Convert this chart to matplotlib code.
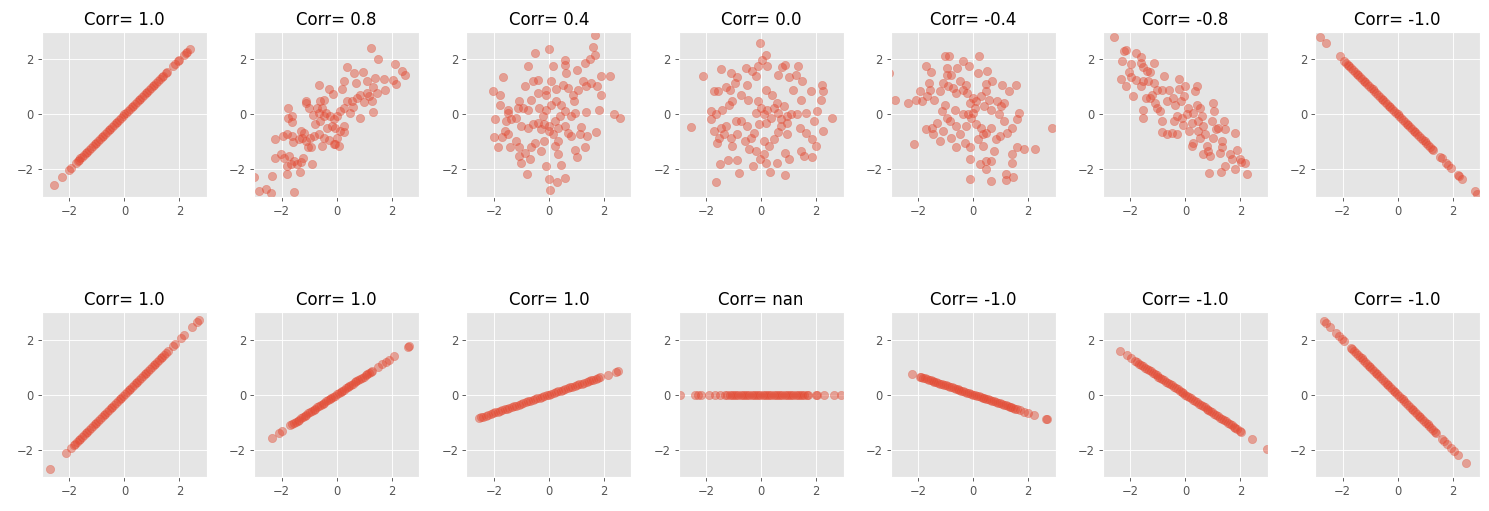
import matplotlib.pyplot as plt

# titulos de cada panel (fila de arriba, fila de abajo)
titles_top = ['Corr= 1.0', 'Corr= 0.8', 'Corr= 0.4', 'Corr= 0.0', 'Corr= -0.4', 'Corr= -0.8', 'Corr= -1.0']
titles_bottom = ['Corr= 1.0', 'Corr= 1.0', 'Corr= 1.0', 'Corr= nan', 'Corr= -1.0', 'Corr= -1.0', 'Corr= -1.0']

ticks = [-2, 0, 2]

# fila de arriba
x_t1 = [-2.57, -2.27, -2.02, -1.96, -1.75, -1.7, -1.66, -1.6, -1.54, -1.47, -1.41, -1.35, -1.28, -1.22, -1.15, -1.09,
        -1.02, -0.96, -0.9, -0.83, -0.77, -0.7, -0.64, -0.58, -0.51, -0.45, -0.38, -0.32, -0.26, -0.19, -0.13, -0.06,
        0.0, 0.06, 0.13, 0.19, 0.26, 0.32, 0.38, 0.45, 0.51, 0.58, 0.64, 0.7, 0.77, 0.83, 0.9, 0.96, 1.03, 1.09, 1.16,
        1.22, 1.29, 1.35, 1.41, 1.5, 1.53, 1.75, 1.84, 1.93, 1.97, 2.16, 2.25, 2.28, 2.37]
y_t1 = [-2.57, -2.27, -2.02, -1.96, -1.75, -1.7, -1.66, -1.6, -1.54, -1.47, -1.41, -1.35, -1.28, -1.22, -1.15, -1.09,
        -1.02, -0.96, -0.9, -0.83, -0.77, -0.7, -0.64, -0.58, -0.51, -0.45, -0.38, -0.32, -0.26, -0.19, -0.13, -0.06,
        0.0, 0.06, 0.13, 0.19, 0.26, 0.32, 0.38, 0.45, 0.51, 0.58, 0.64, 0.7, 0.77, 0.83, 0.9, 0.96, 1.03, 1.09, 1.16,
        1.22, 1.29, 1.35, 1.41, 1.5, 1.53, 1.75, 1.84, 1.93, 1.97, 2.16, 2.25, 2.28, 2.37]

x_t2 = [1.25, 1.52, 2.12, 2.37, 2.49, 2.14, 2.04, 1.77, 1.72, 0.39, 0.64, 0.95, -0.63, -0.29, -0.13, 0.2, 0.28, 0.69,
        1.1, 1.39, 1.31, 1.46, 1.17, 1.29, 1.31, 1.0, 0.86, 1.1, 0.86, 0.73, 0.55, 0.37, 0.28, 0.47, 0.61, 0.13, 0.01,
        -0.11, -0.23, -0.37, -0.53, -0.65, -0.47, -0.59, -0.77, -0.86, -1.01, -1.1, -1.13, -0.59, -0.47, -0.71, -0.35,
        -0.17, -0.05, 0.13, 0.25, 0.28, 0.01, -0.11, 0.07, -0.29, -0.53, -0.47, -0.65, -0.83, -0.98, -0.95, -1.13,
        -1.25, -1.31, -1.19, -1.37, -1.61, -1.58, -1.8, -1.94, -2.25, -1.76, -1.63, -1.61, -1.77, -2.01, -1.92, -1.73,
        -1.67, -1.8, -1.55, -1.31, -1.22, -1.46, -1.34, -0.9, -1.82, -2.25, -2.34, -2.4, -2.58, -2.84, -3.0, -1.55,
        -1.04, -0.05]
y_t2 = [2.43, 2.0, 1.84, 1.58, 1.43, 1.12, 1.27, 0.9, 1.29, 1.71, 1.51, 1.53, 1.06, 0.94, 0.76, 0.94, 1.23, 1.14, 1.2,
        1.33, 0.99, 0.78, 0.66, 0.48, 0.1, 0.46, -0.14, 0.78, 0.72, 0.6, 0.48, 0.48, 0.24, 0.06, 0.27, 0.12, -0.06,
        -0.18, -0.06, 0.06, 0.24, 0.06, -0.06, -0.24, -0.36, -0.02, 0.24, 0.42, 0.48, 0.48, 0.54, 0.24, -0.48, -0.42,
        -0.48, -0.6, -0.42, -0.63, -0.84, -1.06, -1.14, -0.94, -1.14, -0.84, -0.72, -0.78, -0.84, -1.2, -0.96, -0.84,
        -0.6, -0.66, -0.9, -0.78, -0.99, -0.72, -0.78, -0.88, -0.12, -0.27, -0.06, 0.22, -1.45, -1.57, -1.51, -1.81,
        -1.87, -1.69, -1.72, -1.6, -1.81, -2.08, -1.81, -2.17, -1.6, -2.25, -2.87, -2.71, -2.77, -2.27, -2.81, -1.2,
        -1.08]

x_t3 = [1.68, 1.61, 1.67, 1.49, 1.3, 1.01, 0.57, 0.57, 0.62, 0.15, -0.01, -0.51, -0.76, -1.66, -2.04, -1.76, -1.79,
        -1.94, -1.49, -1.49, -1.39, -1.55, -1.61, -1.98, -1.71, -1.85, -1.49, -1.41, -1.19, -1.07, -1.1, -1.03, -0.85,
        -0.7, -0.64, -0.52, -0.28, -0.16, -0.1, -0.8, 0.02, 0.06, 0.28, 0.57, 0.45, 0.33, 0.23, 0.33, 0.96, 1.03, 1.3,
        1.37, 1.73, 1.12, 1.18, 0.81, 0.96, 1.36, 1.81, 2.36, 2.57, 1.89, 1.75, 1.9, 2.21, 1.54, 1.36, 1.24, 1.05, 0.87,
        0.69, 0.51, 0.27, 0.08, -0.1, -0.38, -0.58, -0.85, -0.64, -0.95, -0.76, -1.13, -1.1, -1.19, -1.01, -0.74,
        -0.58, -0.4, -0.28, -0.22, -0.1, 0.08, 0.27, 0.45, 0.57, 0.39, 0.21, 0.02, -0.16, -0.01, 0.15, 0.33, 0.57,
        0.69, 0.81, -0.34, -0.4, -0.1, 0.93]
y_t3 = [2.89, 2.47, 2.17, 2.02, 1.89, 1.6, 1.99, 1.81, 1.51, 1.78, 2.39, 2.24, 1.78, 1.37, 0.84, 0.72, 0.33, -0.18,
        0.18, 0.06, -0.18, -0.24, -0.6, -0.82, -0.82, -1.2, -0.7, -1.2, -0.96, -1.2, -1.51, -1.78, -1.39, -1.63, -1.2,
        -1.02, -1.33, -0.96, -1.87, -2.17, -2.35, -2.75, -2.47, -2.31, -1.84, -1.45, -1.14, -0.96, -1.3, -1.54, -1.18,
        -0.78, -0.64, -0.72, -0.46, -0.06, 0.06, 0.08, 0.15, 0.0, -0.14, 0.72, 1.02, 1.39, 1.39, 1.14, 1.02, 1.2, 0.9,
        0.72, 0.96, 1.08, 0.94, 1.2, 0.9, 1.27, 1.2, 1.02, 0.54, 0.24, 0.18, 0.24, 0.48, -0.12, -0.42, -0.48, -0.36,
        -0.3, -0.54, -0.06, 0.18, 0.36, 0.48, 0.36, 0.12, -0.06, -0.24, -0.42, -0.36, -0.6, -0.72, -0.48, -0.42,
        -0.66, -0.78, 0.24, 0.78, 0.72, 0.48]

x_t4 = [-0.04, 0.19, 0.05, -0.11, 0.23, 0.86, 0.78, 1.35, 0.62, 1.0, 1.26, 1.49, 1.18, 1.83, 2.23, 2.27, 2.19, 2.05,
        2.59, 2.25, 1.93, 1.65, 1.44, 1.32, 1.1, 0.96, 1.62, 1.41, 1.87, 1.99, 1.56, 1.87, 1.44, 1.02, 0.86, 0.86,
        0.33, 0.59, 0.17, -0.05, 0.11, -0.3, -0.8, -0.87, -1.2, -1.5, -1.64, -2.56, -2.11, -1.47, -1.1, -0.86, -0.56,
        -0.32, -0.19, -1.28, -1.71, -1.56, -1.13, -0.95, -0.74, -0.5, -0.47, -1.04, -1.16, -1.41, -1.83, -1.65, -1.83,
        -1.71, -1.53, -1.59, -1.35, -1.1, -0.86, -1.04, -0.74, -0.92, -0.5, -0.59, -0.38, -0.44, -0.25, -0.19, 0.11,
        0.29, 0.47, 0.62, 0.72, 0.93, 0.96, -0.11, -0.01, -0.19, 0.11, 0.23, 0.35, 0.17, -0.07, 0.47, 0.59, 0.41,
        0.17, 0.62, 0.84, 0.72, -1.28, -1.47]
y_t4 = [2.61, 2.17, 1.99, 1.78, 1.75, 1.81, 1.72, 1.77, 1.45, 1.35, 1.42, 1.2, 0.9, 0.87, 1.06, 0.87, 0.51, 0.12, -0.14,
        -0.6, -0.24, 0.06, 0.54, 0.02, 0.0, -0.06, -0.66, -0.48, -0.9, -1.14, -1.51, -1.54, -1.33, -1.63, -1.39, -2.19,
        -2.08, -1.75, -1.75, -1.63, -1.45, -1.87, -2.13, -1.66, -1.66, -1.81, -2.45, -0.46, 1.39, 1.66, 1.51, 1.35,
        1.69, 1.57, 1.39, 0.99, 0.87, 0.84, 0.9, 1.14, 0.72, 1.08, 0.54, 0.48, 0.36, 0.18, 0.12, 0.0, -0.18, -0.6,
        -0.84, -1.02, -0.72, -0.84, -0.72, -1.14, -0.24, -0.24, -0.42, -0.96, -0.84, -1.27, -0.66, -1.33, -0.96,
        -1.14, -0.9, -0.64, -0.42, -0.3, -0.72, 0.48, 0.24, 0.06, 0.0, 0.18, -0.12, -0.3, -0.36, 0.24, 0.42, 0.72, 0.9,
        0.06, 0.3, -0.18, -0.42, -0.48]

x_t5 = [-3.05, -2.84, -2.38, -2.16, -2.08, -1.92, -1.86, -1.71, -1.53, -1.6, -1.68, -1.57, -1.42, -1.71, -1.51, -1.45,
        -1.33, -1.21, -1.09, -1.03, -0.87, -0.97, -0.97, -0.82, -1.09, -0.91, -0.73, -0.59, -0.37, -0.17, -0.49, -0.61,
        -0.37, -0.25, -0.22, -1.21, -1.15, -1.03, -0.97, -0.85, -0.67, -0.61, -0.79, -0.63, -0.49, -0.31, -0.25, -0.37,
        -0.19, -0.11, -0.01, 0.11, 0.05, -0.07, 0.01, 0.2, 0.17, 0.51, 0.47, 0.7, 0.47, 0.29, 0.41, 0.65, 0.59, 0.88,
        1.04, 1.3, 1.54, 1.0, 1.12, 0.94, 1.12, 1.66, 1.6, 1.42, 1.24, 0.97, 0.82, 0.65, 0.47, 0.29, 0.35, 0.11, 0.17,
        0.35, -0.13, -0.13, -0.11, 0.23, 0.47, 0.47, 0.65, 0.65, 0.76, 1.18, 1.18, 1.46, 1.4, 1.42, 1.6, 1.84, 2.26,
        2.88]
y_t5 = [1.51, 0.52, 0.42, -1.08, 0.51, 0.84, 0.48, 1.75, 1.54, 1.14, 0.66, 0.9, 0.51, -0.54, -0.48, -0.72, -0.3, -0.96,
        -0.6, 2.11, 2.11, 1.69, 1.45, 1.45, 1.14, 1.02, 0.96, 1.69, 1.93, 1.75, 1.2, 0.78, 0.9, 1.08, 0.78, 0.84, 0.12,
        0.36, -0.12, -0.24, 0.18, -0.42, -0.84, -1.2, -0.72, -1.02, -0.42, 0.0, 0.0, 0.42, 0.6, 0.48, 0.24, -0.12,
        0.06, 2.13, 1.51, 1.57, 1.11, 1.2, 0.84, 0.66, 0.3, 0.18, 0.54, 0.48, 1.06, 0.84, 1.08, 0.3, 0.42, 0.0, -0.24,
        0.06, -0.18, -0.48, -0.66, -0.78, -0.9, -0.48, -0.66, -0.48, -0.72, -0.36, -0.9, -1.14, -1.2, -1.63, -2.35,
        -1.81, -1.69, -1.99, -1.69, -2.43, -1.33, -2.17, -2.37, -2.29, -1.77, -1.45, -1.2, -1.27, -1.27, -0.48]

x_t6 = [-2.59, -2.23, -2.17, -2.32, -1.99, -1.81, -1.63, -1.63, -1.54, -1.15, -1.3, -1.39, -2.05, -1.99, -2.33, -2.17,
        -1.91, -1.81, -1.63, -1.55, -1.37, -1.13, -0.79, -1.03, -0.85, -0.61, -1.45, -1.3, -1.54, -1.54, -1.09, -1.03,
        -0.91, -0.85, -0.85, -0.67, -0.46, -0.22, -0.25, -0.37, -0.31, -0.43, -0.49, -0.31, -0.17, -0.01, -0.05, 0.11,
        0.05, -0.13, -0.07, 0.14, 0.23, 0.29, 0.41, 0.35, 0.41, 0.53, 0.59, 0.47, 0.65, 0.47, 0.29, 0.23, 0.53, 0.71,
        0.77, 0.65, 0.89, 0.83, 1.01, 1.03, 0.98, 1.13, 1.01, 1.33, 1.34, 1.25, 1.19, 1.4, 1.45, 1.79, 1.61, 1.7, 1.88,
        1.97, 2.03, 2.18, 1.81, 2.24, 1.45, 1.28, 0.86, -0.67, -1.21]
y_t6 = [2.8, 2.31, 2.35, 1.93, 1.84, 2.23, 2.08, 1.87, 1.72, 1.87, 1.54, 1.59, 1.53, 1.35, 1.3, 1.02, 0.66, 1.27, 1.02,
        1.23, 1.23, 1.14, 1.39, 0.9, 0.9, 0.9, 0.6, 0.6, 0.18, -0.14, 0.42, 0.24, 0.12, -0.24, -0.64, 0.48, 0.6, 1.29,
        0.94, 0.36, -0.06, -0.24, -0.66, -0.72, 0.48, 1.02, 0.66, 0.24, 0.0, -0.12, -0.39, -0.6, -0.3, 0.06, 1.02,
        0.84, 0.36, 0.24, -0.06, -0.24, -0.42, -0.6, -1.02, -1.14, -0.84, -0.72, -1.14, -1.45, -1.51, -1.33, 0.42,
        0.12, -0.24, -0.54, -0.84, -0.96, -1.2, -1.39, -0.48, -0.24, -0.54, -0.66, -1.45, -1.63, -1.3, -1.63, -1.71,
        -1.75, -1.99, -2.17, -1.87, -2.1, -2.13, -0.72, 0.7]

x_t7 = [-2.82, -2.59, -2.11, -1.95, -1.86, -1.81, -1.75, -1.69, -1.62, -1.56, -1.49, -1.43, -1.36, -1.3, -1.23, -1.17,
        -1.1, -1.04, -0.97, -0.91, -0.84, -0.78, -0.71, -0.65, -0.58, -0.52, -0.45, -0.39, -0.32, -0.26, -0.19, -0.13,
        -0.06, 0.0, 0.07, 0.13, 0.2, 0.26, 0.33, 0.39, 0.46, 0.52, 0.59, 0.65, 0.72, 0.78, 0.85, 0.91, 0.98, 1.04, 1.11,
        1.17, 1.24, 1.3, 1.55, 1.6, 1.75, 1.85, 1.95, 2.2, 2.24, 2.35, 2.8, 2.9]
y_t7 = [2.82, 2.59, 2.11, 1.95, 1.86, 1.81, 1.75, 1.69, 1.62, 1.56, 1.49, 1.43, 1.36, 1.3, 1.23, 1.17, 1.1, 1.04, 0.97,
        0.91, 0.84, 0.78, 0.71, 0.65, 0.58, 0.52, 0.45, 0.39, 0.32, 0.26, 0.19, 0.13, 0.06, 0.0, -0.07, -0.13, -0.2,
        -0.26, -0.33, -0.39, -0.46, -0.52, -0.59, -0.65, -0.72, -0.78, -0.85, -0.91, -0.98, -1.04, -1.11, -1.17, -1.24,
        -1.3, -1.55, -1.6, -1.75, -1.85, -1.95, -2.2, -2.24, -2.35, -2.8, -2.9]

# fila de abajo
x_b1 = [-2.72, -2.14, -1.93, -1.85, -1.8, -1.74, -1.67, -1.61, -1.54, -1.48, -1.41, -1.35, -1.28, -1.22, -1.15, -1.09,
        -1.02, -0.96, -0.89, -0.83, -0.76, -0.7, -0.63, -0.57, -0.5, -0.44, -0.37, -0.31, -0.24, -0.18, -0.11, -0.05,
        0.02, 0.08, 0.15, 0.21, 0.28, 0.34, 0.41, 0.47, 0.54, 0.6, 0.67, 0.73, 0.8, 0.86, 0.93, 0.99, 1.06, 1.12, 1.19,
        1.25, 1.32, 1.38, 1.45, 1.51, 1.58, 1.75, 1.85, 2.05, 2.15, 2.45, 2.62, 2.7]
y_b1 = [-2.72, -2.14, -1.93, -1.85, -1.8, -1.74, -1.67, -1.61, -1.54, -1.48, -1.41, -1.35, -1.28, -1.22, -1.15, -1.09,
        -1.02, -0.96, -0.89, -0.83, -0.76, -0.7, -0.63, -0.57, -0.5, -0.44, -0.37, -0.31, -0.24, -0.18, -0.11, -0.05,
        0.02, 0.08, 0.15, 0.21, 0.28, 0.34, 0.41, 0.47, 0.54, 0.6, 0.67, 0.73, 0.8, 0.86, 0.93, 0.99, 1.06, 1.12, 1.19,
        1.25, 1.32, 1.38, 1.45, 1.51, 1.58, 1.75, 1.85, 2.05, 2.15, 2.45, 2.62, 2.7]

x_b2 = [-2.36, -2.1, -1.99, -1.68, -1.62, -1.55, -1.49, -1.42, -1.36, -1.29, -1.23, -1.16, -1.1, -1.03, -0.97, -0.9,
        -0.84, -0.77, -0.71, -0.64, -0.58, -0.51, -0.45, -0.38, -0.32, -0.25, -0.19, -0.12, -0.06, 0.01, 0.07, 0.14,
        0.2, 0.27, 0.33, 0.4, 0.46, 0.53, 0.59, 0.66, 0.72, 0.79, 0.85, 0.92, 0.98, 1.05, 1.11, 1.18, 1.24, 1.3, 1.5,
        1.65, 1.8, 1.9, 2.1, 2.58, 2.62]
y_b2 = [-1.57, -1.4, -1.33, -1.12, -1.08, -1.03, -0.99, -0.95, -0.91, -0.86, -0.82, -0.77, -0.73, -0.69, -0.65, -0.6,
        -0.56, -0.51, -0.47, -0.43, -0.39, -0.34, -0.3, -0.25, -0.21, -0.17, -0.13, -0.08, -0.04, 0.01, 0.05, 0.09,
        0.13, 0.18, 0.22, 0.27, 0.31, 0.35, 0.39, 0.44, 0.48, 0.53, 0.57, 0.61, 0.65, 0.7, 0.74, 0.79, 0.83, 0.87, 1.0,
        1.1, 1.2, 1.27, 1.4, 1.72, 1.75]

x_b3 = [-2.55, -2.48, -2.4, -2.3, -2.2, -2.12, -2.03, -1.95, -1.86, -1.78, -1.69, -1.61, -1.52, -1.44, -1.35, -1.27,
        -1.18, -1.1, -1.01, -0.93, -0.84, -0.76, -0.67, -0.59, -0.5, -0.42, -0.33, -0.25, -0.16, -0.08, 0.01, 0.09,
        0.18, 0.26, 0.35, 0.43, 0.52, 0.6, 0.69, 0.77, 0.86, 0.94, 1.03, 1.11, 1.2, 1.28, 1.37, 1.45, 1.54, 1.62, 1.71,
        1.79, 1.85, 2.15, 2.45, 2.5]
y_b3 = [-0.85, -0.83, -0.8, -0.77, -0.74, -0.71, -0.68, -0.65, -0.62, -0.6, -0.57, -0.54, -0.51, -0.48, -0.45, -0.43,
        -0.4, -0.37, -0.34, -0.31, -0.28, -0.25, -0.22, -0.2, -0.17, -0.14, -0.11, -0.08, -0.05, -0.03, 0.0, 0.03,
        0.06, 0.09, 0.12, 0.14, 0.17, 0.2, 0.23, 0.26, 0.29, 0.31, 0.35, 0.37, 0.4, 0.43, 0.46, 0.49, 0.52, 0.54, 0.57,
        0.6, 0.62, 0.72, 0.82, 0.84]

x_b4 = [-2.95, -2.4, -2.3, -2.18, -1.88, -1.67, -1.49, -1.3, -1.22, -1.14, -1.06, -0.98, -0.9, -0.82, -0.74, -0.66,
        -0.58, -0.5, -0.42, -0.34, -0.26, -0.18, -0.1, -0.02, 0.06, 0.14, 0.22, 0.3, 0.38, 0.46, 0.54, 0.62, 0.7, 0.78,
        0.86, 0.94, 1.02, 1.1, 1.18, 1.26, 1.34, 1.42, 1.5, 1.58, 1.66, 1.72, 2.0, 2.05, 2.3, 2.65, 2.92]
y_b4 = [0.0, 0.0, 0.0, 0.0, 0.0, 0.0, 0.0, 0.0, 0.0, 0.0, 0.0, 0.0, 0.0, 0.0, 0.0, 0.0, 0.0, 0.0, 0.0, 0.0, 0.0, 0.0,
        0.0, 0.0, 0.0, 0.0, 0.0, 0.0, 0.0, 0.0, 0.0, 0.0, 0.0, 0.0, 0.0, 0.0, 0.0, 0.0, 0.0, 0.0, 0.0, 0.0, 0.0, 0.0,
        0.0, 0.0, 0.0, 0.0, 0.0, 0.0, 0.0]

x_b5 = [-2.22, -1.95, -1.9, -1.83, -1.76, -1.69, -1.62, -1.55, -1.48, -1.41, -1.34, -1.27, -1.2, -1.13, -1.06, -0.99,
        -0.92, -0.85, -0.78, -0.71, -0.64, -0.57, -0.5, -0.43, -0.36, -0.29, -0.22, -0.15, -0.08, -0.01, 0.06, 0.13,
        0.2, 0.27, 0.34, 0.41, 0.48, 0.55, 0.62, 0.69, 0.76, 0.83, 0.9, 0.97, 1.04, 1.11, 1.18, 1.25, 1.32, 1.39, 1.46,
        1.53, 1.6, 1.7, 1.85, 2.0, 2.2, 2.65, 2.67]
y_b5 = [0.74, 0.65, 0.63, 0.61, 0.59, 0.56, 0.54, 0.52, 0.49, 0.47, 0.45, 0.42, 0.4, 0.38, 0.35, 0.33, 0.31, 0.28,
        0.26, 0.24, 0.21, 0.19, 0.17, 0.14, 0.12, 0.1, 0.07, 0.05, 0.03, 0.0, -0.02, -0.04, -0.07, -0.09, -0.11, -0.14,
        -0.16, -0.18, -0.21, -0.23, -0.25, -0.28, -0.3, -0.32, -0.35, -0.37, -0.39, -0.42, -0.44, -0.46, -0.49, -0.51,
        -0.53, -0.57, -0.62, -0.67, -0.73, -0.88, -0.89]

x_b6 = [-2.37, -2.13, -1.99, -1.84, -1.75, -1.68, -1.61, -1.54, -1.47, -1.4, -1.33, -1.26, -1.19, -1.12, -1.05, -0.98,
        -0.91, -0.84, -0.77, -0.7, -0.63, -0.56, -0.49, -0.42, -0.35, -0.28, -0.21, -0.14, -0.07, 0.0, 0.07, 0.14, 0.21,
        0.28, 0.35, 0.42, 0.49, 0.56, 0.63, 0.7, 0.77, 0.84, 0.91, 0.98, 1.05, 1.12, 1.19, 1.26, 1.33, 1.4, 1.47, 1.54,
        1.61, 1.68, 1.75, 1.82, 1.88, 2.0, 2.02, 2.43, 2.97]
y_b6 = [1.58, 1.42, 1.33, 1.23, 1.17, 1.12, 1.07, 1.03, 0.98, 0.93, 0.89, 0.84, 0.79, 0.75, 0.7, 0.65, 0.61, 0.56, 0.51,
        0.47, 0.42, 0.37, 0.33, 0.28, 0.23, 0.19, 0.14, 0.09, 0.05, 0.0, -0.05, -0.09, -0.14, -0.19, -0.23, -0.28,
        -0.33, -0.37, -0.42, -0.47, -0.51, -0.56, -0.61, -0.65, -0.7, -0.75, -0.79, -0.84, -0.89, -0.93, -0.98, -1.03,
        -1.07, -1.12, -1.17, -1.21, -1.25, -1.33, -1.35, -1.62, -1.98]

x_b7 = [-2.67, -2.61, -2.45, -2.25, -2.13, -2.01, -1.95, -1.7, -1.64, -1.57, -1.51, -1.44, -1.38, -1.31, -1.25, -1.18,
        -1.12, -1.05, -0.99, -0.92, -0.86, -0.79, -0.73, -0.66, -0.6, -0.53, -0.47, -0.4, -0.34, -0.27, -0.21, -0.14,
        -0.08, -0.01, 0.05, 0.12, 0.18, 0.25, 0.31, 0.38, 0.44, 0.51, 0.57, 0.64, 0.7, 0.77, 0.83, 0.9, 0.96, 1.03,
        1.09, 1.16, 1.22, 1.29, 1.35, 1.4, 1.6, 1.7, 1.8, 1.95, 2.05, 2.2, 2.5]
y_b7 = [2.67, 2.61, 2.45, 2.25, 2.13, 2.01, 1.95, 1.7, 1.64, 1.57, 1.51, 1.44, 1.38, 1.31, 1.25, 1.18, 1.12, 1.05, 0.99,
        0.92, 0.86, 0.79, 0.73, 0.66, 0.6, 0.53, 0.47, 0.4, 0.34, 0.27, 0.21, 0.14, 0.08, 0.01, -0.05, -0.12, -0.18,
        -0.25, -0.31, -0.38, -0.44, -0.51, -0.57, -0.64, -0.7, -0.77, -0.83, -0.9, -0.96, -1.03, -1.09, -1.16, -1.22,
        -1.29, -1.35, -1.4, -1.6, -1.7, -1.8, -1.95, -2.05, -2.2, -2.5]

top_x = [x_t1, x_t2, x_t3, x_t4, x_t5, x_t6, x_t7]
top_y = [y_t1, y_t2, y_t3, y_t4, y_t5, y_t6, y_t7]
bottom_x = [x_b1, x_b2, x_b3, x_b4, x_b5, x_b6, x_b7]
bottom_y = [y_b1, y_b2, y_b3, y_b4, y_b5, y_b6, y_b7]

plt.style.use('ggplot')
fig, axes = plt.subplots(2, 7, figsize=(1489 / 83, 511 / 83), dpi=83)
fig.subplots_adjust(left=0.0282, right=0.994, bottom=0.0665, top=0.9374, wspace=0.286, hspace=0.697)

rows = [(top_x, top_y, titles_top), (bottom_x, bottom_y, titles_bottom)]
for r, (xs, ys, titles) in enumerate(rows):
    for c in range(7):
        ax = axes[r][c]
        ax.scatter(xs[c], ys[c], s=52, alpha=0.45)
        ax.set_title(titles[c])
        ax.set_xlim(-3, 3)
        ax.set_ylim(-3, 3)
        ax.set_xticks(ticks)
        ax.set_yticks(ticks)

fig.savefig('out.png', dpi=83)
